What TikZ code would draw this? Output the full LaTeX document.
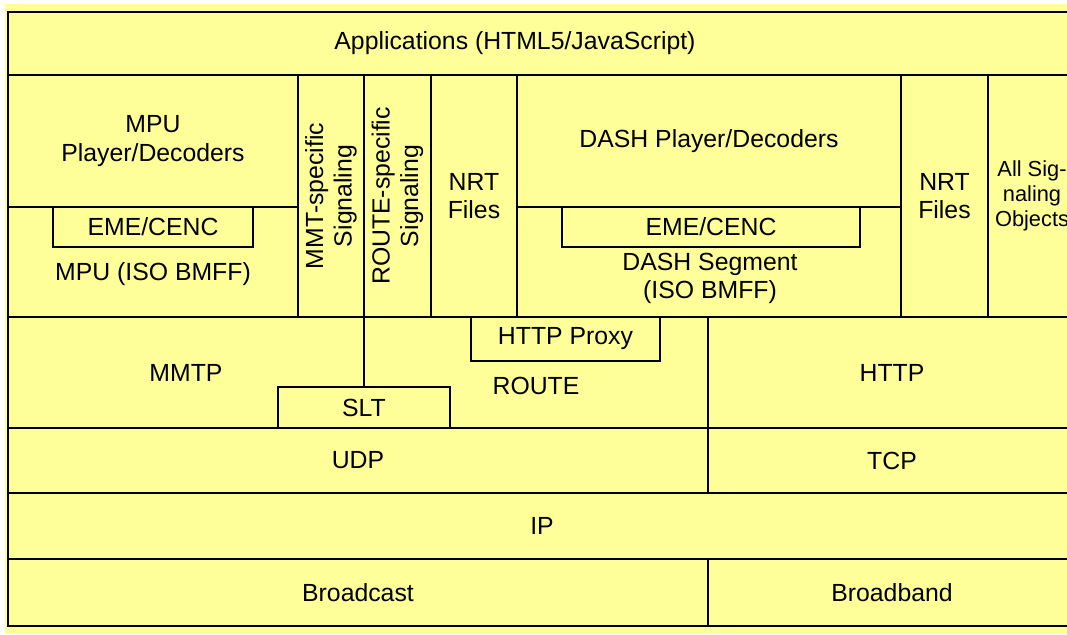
\documentclass[tikz,border=0pt]{standalone}
\usepackage{fontspec}
\setmainfont{Liberation Sans}
\definecolor{paper}{RGB}{255,255,153}
\tikzset{
	blk/.style={draw, fill=paper, line width=2.6pt, inner sep=0pt, outer sep=0pt, align=center},
	txt/.style={inner sep=0pt, align=center},
}
\begin{document}
\begin{tikzpicture}[x=1pt, y=-1pt, font=\fontsize{24.8}{28.5}\selectfont]
	\useasboundingbox (0,0) rectangle (1067,634);
	\clip (0,0) rectangle (1067,634);
	\fill[paper] (5,4) rectangle (1067,634);
	% application layer
	\node[blk, minimum width=1068pt, minimum height=63pt] (apps) at (542,43.5) {};
	\node[txt] (appsText) at (515,43) {Applications (HTML5/JavaScript)};
	% MPU column
	\node[blk, minimum width=290pt, minimum height=132pt] (mpuPlayer) at (153,141) {MPU\\Player/Decoders};
	\node[blk, minimum width=290pt, minimum height=110pt] (mpuFile) at (153,262) {};
	\node[txt] (mpuFileText) at (153,274) {MPU (ISO BMFF)};
	\node[blk, minimum width=200pt, minimum height=40pt] (emeMpu) at (153,227) {EME/CENC};
	% signaling and NRT columns
	\node[blk, rotate=90, minimum width=242pt, minimum height=66pt] (mmtSig) at (331,196) {MMT-specific\\Signaling};
	\node[blk, rotate=90, minimum width=242pt, minimum height=67pt] (routeSig) at (397.5,196) {ROUTE-specific\\Signaling};
	\node[blk, minimum width=86pt, minimum height=242pt] (nrtA) at (474,196) {NRT\\Files};
	% DASH column
	\node[blk, minimum width=384pt, minimum height=132pt] (dashPlayer) at (709,141) {DASH Player/Decoders};
	\node[blk, minimum width=384pt, minimum height=110pt] (dashSeg) at (709,262) {};
	\node[txt] (dashSegText) at (710,278.5) {DASH Segment\\(ISO BMFF)};
	\node[blk, minimum width=298pt, minimum height=40pt] (emeDash) at (711,227) {EME/CENC};
	\node[blk, minimum width=87pt, minimum height=242pt] (nrtB) at (944.5,196) {NRT\\Files};
	\node[blk, minimum width=88pt, minimum height=242pt, font=\fontsize{21.8}{25}\selectfont] (sigObj) at (1032,196) {All Sig-\\naling\\Objects};
	% transport
	\node[blk, minimum width=356pt, minimum height=111pt] (mmtp) at (186,372.5) {MMTP};
	\node[blk, minimum width=344pt, minimum height=111pt] (route) at (536,372.5) {};
	\node[txt] (routeText) at (536,386) {ROUTE};
	\node[blk, minimum width=189pt, minimum height=44pt] (httpProxy) at (565.5,339) {HTTP Proxy};
	\node[blk, minimum width=172pt, minimum height=41pt] (slt) at (364,407.5) {SLT};
	\node[blk, minimum width=368pt, minimum height=111pt] (http) at (892,372.5) {HTTP};
	\node[blk, minimum width=700pt, minimum height=65pt] (udp) at (358,460.5) {UDP};
	\node[blk, minimum width=368pt, minimum height=65pt] (tcp) at (892,460.5) {TCP};
	% network and physical
	\node[blk, minimum width=1068pt, minimum height=66pt] (ip) at (542,526) {IP};
	\node[blk, minimum width=700pt, minimum height=67pt] (broadcast) at (358,592.5) {Broadcast};
	\node[blk, minimum width=368pt, minimum height=67pt] (broadband) at (892,592.5) {Broadband};
\end{tikzpicture}
\end{document}
